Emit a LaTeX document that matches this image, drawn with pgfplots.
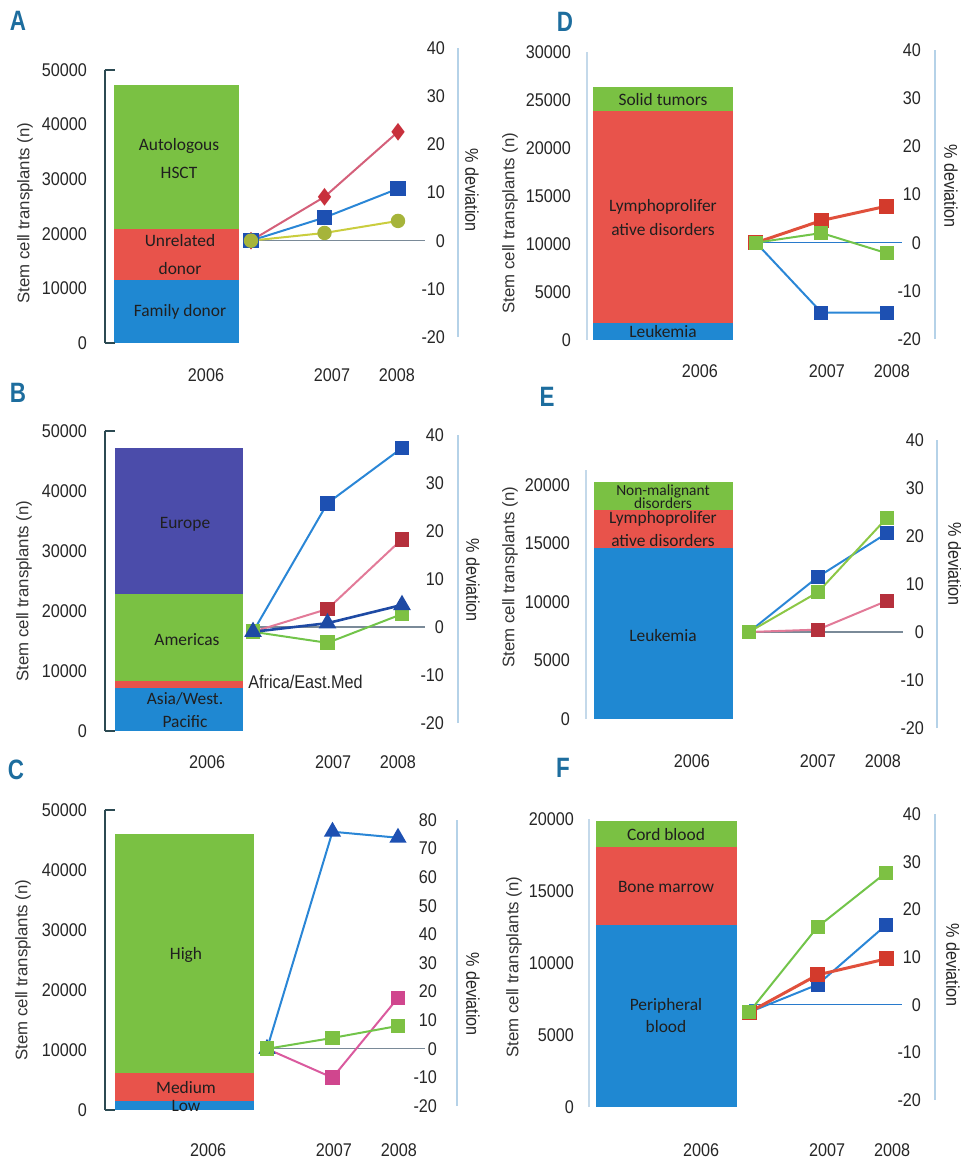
\documentclass[border=0pt]{standalone}
\usepackage{pgfplots}
\pgfplotsset{compat=1.18}
\usepackage{fontspec}
\setmainfont{Liberation Sans}
\newfontfamily\condf[FakeStretch=0.88]{Liberation Sans}
\newfontfamily\barf{Carlito}
\newfontfamily\letf[FakeStretch=0.8]{Liberation Sans}
\newcommand\tickfont{\condf\fontsize{9.2}{10}\selectfont}
\newcommand\barfont{\barf\fontsize{8.7}{9}\selectfont}
\newcommand\smallbarfont{\barf\fontsize{7.7}{8}\selectfont}
\newcommand\ylabfont{\fontsize{8.4}{9}\selectfont}
\newcommand\letfont{\letf\bfseries\fontsize{14}{15}\selectfont}

\definecolor{bgreen}{HTML}{7AC143}
\definecolor{bred}{HTML}{E8534B}
\definecolor{bblue}{HTML}{1F88D2}
\definecolor{bpurple}{HTML}{4B4CAA}
\definecolor{slate}{HTML}{2C4A52}
\definecolor{laxis}{HTML}{C4D9EA}
\definecolor{raxis}{HTML}{B5D2E8}
\definecolor{zline}{HTML}{7A8A98}
\definecolor{letc}{HTML}{1D6D9E}
\definecolor{pinkred}{HTML}{D4607A}
\definecolor{dred}{HTML}{C8303C}
\definecolor{lblue}{HTML}{2A86D6}
\definecolor{dblue}{HTML}{1D50B2}
\definecolor{yline}{HTML}{CACD3E}
\definecolor{olivem}{HTML}{A6B43A}
\definecolor{pinkl}{HTML}{E27A98}
\definecolor{mred}{HTML}{B5303C}
\definecolor{gline}{HTML}{72C44A}
\definecolor{gmark}{HTML}{7DC143}
\definecolor{navy}{HTML}{1E4AA4}
\definecolor{magl}{HTML}{DA5A9E}
\definecolor{magm}{HTML}{D0468E}
\definecolor{rline}{HTML}{E0503C}
\definecolor{rmark}{HTML}{D33A2C}

\pgfplotsset{
  every axis/.append style={scale only axis, anchor=south west, clip=false,
    /pgf/number format/assume math mode=true, /pgf/number format/1000 sep={},
    scaled y ticks=false},
  barax/.style={axis x line=none, axis y line=left, ybar stacked, ymin=0,
    major tick length=0pt,
    yticklabel style={font=\tickfont, text=black!85, anchor=east}},
  bracket/.style={y axis line style={-, draw=slate, line width=1.1pt}},
  faint/.style={y axis line style={-, draw=laxis, line width=0.8pt}},
  lineax/.style={axis y line=right, y axis line style={-, draw=raxis, line width=0.9pt},
    axis x line=bottom, x axis line style={draw=none},
    major tick length=0pt, ymin=-20, ymax=40, ytick={-20,-10,...,40},
    xticklabels={2006,2007,2008},
    ticklabel style={font=\tickfont, text=black!85},
    yticklabel style={anchor=east}, xticklabel style={anchor=base}},
  sq/.style={mark=square*, mark size=3.2pt},
}

\begin{document}
\begin{tikzpicture}
\path[use as bounding box] (0,0) rectangle (480pt,-579pt);

% ================= Panel A =================
\begin{axis}[barax, bracket, at={(52.5pt,-171.5pt)}, width=176.5pt, height=136.5pt,
  xmin=-1.986, xmax=2.816, ymax=50000, ytick={0,10000,...,50000}, bar width=62.5pt,
  yticklabel style={xshift=-5.5pt}]
\addplot[fill=bblue, draw=none] coordinates {(-1.014,11500)};
\addplot[fill=bred, draw=none] coordinates {(-1.014,9400)};
\addplot[fill=bgreen, draw=none] coordinates {(-1.014,26300)};
\end{axis}
\begin{axis}[lineax, at={(52.5pt,-168.5pt)}, width=176.5pt, height=144.5pt,
  xmin=-1.986, xmax=2.816, xtick={-0.612,1.102,1.986},
  yticklabel style={xshift=-3pt}, xticklabel style={yshift=-22.25pt}]
\addplot[zline, line width=0.6pt, forget plot] coordinates {(0,0) (2.37,0)};
\addplot[color=pinkred, line width=1pt, mark=diamond*, mark size=3.6pt, mark options={fill=dred, draw=dred}] coordinates {(0,0) (1,9.1) (2,22.6)};
\addplot[color=lblue, line width=1pt, sq, mark size=3.3pt, mark options={fill=dblue, draw=dblue}] coordinates {(0,0) (1,4.8) (2,10.8)};
\addplot[color=yline, line width=1pt, mark=*, mark size=3.1pt, mark options={fill=olivem, draw=olivem}] coordinates {(0,0) (1,1.6) (2,4.1)};
\end{axis}

% ================= Panel B =================
\begin{axis}[barax, bracket, at={(52.5pt,-365.5pt)}, width=176.5pt, height=150pt,
  xmin=-1.987, xmax=2.752, ymax=50000, ytick={0,10000,...,50000}, bar width=64pt,
  yticklabel style={xshift=-5.5pt}]
\addplot[fill=bblue, draw=none] coordinates {(-0.993,7170)};
\addplot[fill=bred, draw=none] coordinates {(-0.993,1160)};
\addplot[fill=bgreen, draw=none] coordinates {(-0.993,14500)};
\addplot[fill=bpurple, draw=none] coordinates {(-0.993,24340)};
\end{axis}
\begin{axis}[lineax, at={(52.5pt,-361.5pt)}, width=176.5pt, height=144pt,
  xmin=-1.987, xmax=2.752, xtick={-0.617,1.074,1.946},
  yticklabel style={xshift=-3.5pt}, xticklabel style={yshift=-22.75pt}]
\addplot[zline, line width=0.6pt, forget plot] coordinates {(0,0) (2.31,0)};
\addplot[color=lblue, line width=1pt, sq, mark options={fill=dblue, draw=dblue}] coordinates {(0,-1) (1,25.8) (2,37.3)};
\addplot[color=pinkl, line width=1pt, sq, mark options={fill=mred, draw=mred}] coordinates {(0,-1) (1,3.75) (2,18.3)};
\addplot[color=gline, line width=1pt, sq, mark options={fill=gmark, draw=gmark}] coordinates {(0,-1) (1,-3.3) (2,2.7)};
\addplot[color=navy, line width=1.3pt, mark=triangle*, mark size=3.8pt, mark options={fill=navy, draw=navy}] coordinates {(0,-1) (1,0.8) (2,4.6)};
\end{axis}

% ================= Panel C =================
\begin{axis}[barax, bracket, at={(52.5pt,-555pt)}, width=176pt, height=150pt,
  xmin=-2.473, xmax=2.901, ymax=50000, ytick={0,10000,...,50000}, bar width=69.5pt,
  yticklabel style={xshift=-5.5pt}]
\addplot[fill=bblue, draw=none] coordinates {(-1.26,1500)};
\addplot[fill=bred, draw=none] coordinates {(-1.26,4670)};
\addplot[fill=bgreen, draw=none] coordinates {(-1.26,39830)};
\end{axis}
\begin{axis}[lineax, at={(52.5pt,-553pt)}, width=176pt, height=143pt,
  xmin=-2.473, xmax=2.901, ymin=-20, ymax=80, ytick={-20,-10,...,80},
  xtick={-0.90,1.023,2.015},
  yticklabel style={xshift=-6.5pt}, xticklabel style={yshift=-25.25pt}]
\addplot[zline, line width=0.6pt, forget plot] coordinates {(0,0) (2.41,0)};
\addplot[color=lblue, line width=1pt, mark=triangle*, mark size=4pt, mark options={fill=dblue, draw=dblue}] coordinates {(0,0) (1,75.9) (2,73.8)};
\addplot[color=magl, line width=1pt, sq, mark options={fill=magm, draw=magm}] coordinates {(0,0) (1,-10.1) (2,17.8)};
\addplot[color=gline, line width=1pt, sq, mark options={fill=gmark, draw=gmark}] coordinates {(0,0) (1,3.8) (2,8.0)};
\end{axis}

% ================= Panel D =================
\begin{axis}[barax, faint, at={(293.5pt,-170pt)}, width=174pt, height=144pt,
  xmin=-2.58, xmax=2.733, ymax=30000, ytick={0,5000,...,30000}, bar width=70pt,
  yticklabel style={xshift=-4.5pt}]
\addplot[fill=bblue, draw=none] coordinates {(-1.42,1800)};
\addplot[fill=bred, draw=none] coordinates {(-1.42,22050)};
\addplot[fill=bgreen, draw=none] coordinates {(-1.42,2500)};
\end{axis}
\begin{axis}[lineax, at={(293.5pt,-169.5pt)}, width=174pt, height=144.5pt,
  xmin=-2.58, xmax=2.733, xtick={-0.855,1.084,2.076},
  yticklabel style={xshift=-3.5pt}, xticklabel style={yshift=-19.25pt}]
\addplot[color=lblue!80!navy, line width=0.6pt, forget plot] coordinates {(0,0) (2.23,0)};
\addplot[color=lblue, line width=1pt, sq, mark size=3pt, mark options={fill=dblue, draw=dblue}] coordinates {(0,0) (1,-14.5) (2,-14.5)};
\addplot[color=rline, line width=1.5pt, sq, mark size=3pt, mark options={fill=rmark, draw=rmark}] coordinates {(0,0) (1,4.6) (2,7.6)};
\addplot[color=gline, line width=1pt, sq, mark size=3pt, mark options={fill=gmark, draw=gmark}] coordinates {(0,0) (1,2) (2,-2.2)};
\end{axis}

% ================= Panel E =================
\begin{axis}[barax, faint, at={(293pt,-359.5pt)}, width=175.5pt, height=124.5pt,
  xmin=-2.362, xmax=2.725, ymax=21282, ytick={0,5000,...,20000}, bar width=69.5pt,
  yticklabel style={xshift=-4.5pt}]
\addplot[fill=bblue, draw=none] coordinates {(-1.239,14600)};
\addplot[fill=bred, draw=none] coordinates {(-1.239,3260)};
\addplot[fill=bgreen, draw=none] coordinates {(-1.239,2390)};
\end{axis}
\begin{axis}[lineax, at={(293pt,-364pt)}, width=175.5pt, height=144pt,
  xmin=-2.362, xmax=2.725, xtick={-0.826,1.0,1.942},
  yticklabel style={xshift=-3pt}, xticklabel style={yshift=-19.75pt}]
\addplot[zline, line width=0.6pt, forget plot] coordinates {(0,0) (2.23,0)};
\addplot[color=pinkl, line width=1pt, sq, mark size=3pt, mark options={fill=mred, draw=mred}] coordinates {(0,0) (1,0.5) (2,6.5)};
\addplot[color=lblue, line width=1pt, sq, mark size=3pt, mark options={fill=dblue, draw=dblue}] coordinates {(0,0) (1,11.5) (2,20.6)};
\addplot[color=gline!70!yline, line width=1pt, sq, mark size=3pt, mark options={fill=gmark, draw=gmark}] coordinates {(0,0) (1,8.3) (2,23.8)};
\end{axis}

% ================= Panel F =================
\begin{axis}[barax, faint, at={(294.5pt,-553.5pt)}, width=173pt, height=144pt,
  xmin=-2.336, xmax=2.715, ymax=20000, ytick={0,5000,...,20000}, bar width=70.5pt,
  yticklabel style={xshift=-4pt}]
\addplot[fill=bblue, draw=none] coordinates {(-1.204,12640)};
\addplot[fill=bred, draw=none] coordinates {(-1.204,5420)};
\addplot[fill=bgreen, draw=none] coordinates {(-1.204,1800)};
\end{axis}
\begin{axis}[lineax, at={(294.5pt,-550pt)}, width=173pt, height=143pt,
  xmin=-2.336, xmax=2.715, xtick={-0.70,1.139,2.088},
  yticklabel style={xshift=-3.5pt}, xticklabel style={yshift=-28.25pt}]
\addplot[color=lblue!80!navy, line width=0.6pt, forget plot] coordinates {(0,0) (2.23,0)};
\addplot[color=lblue, line width=1pt, sq, mark size=3pt, mark options={fill=dblue, draw=dblue}] coordinates {(0,-1.6) (1,4.2) (2,16.7)};
\addplot[color=rline, line width=1.5pt, sq, mark size=3pt, mark options={fill=rmark, draw=rmark}] coordinates {(0,-1.6) (1,6.25) (2,9.6)};
\addplot[color=gline, line width=1pt, sq, mark size=3pt, mark options={fill=gmark, draw=gmark}] coordinates {(0,-1.6) (1,16.3) (2,27.7)};
\end{axis}

% ================= Text and brackets =================
\begin{scope}[x=0.5pt, y=-0.5pt]
% bracket ends of the left axes in A, B, C
\foreach \yy in {70, 343, 431, 731, 810, 1110}
  \draw[slate, line width=1.1pt] (104.5,\yy) -- (115,\yy);
% panel letters
\node[font=\letfont, text=letc] at (18,21) {A};
\node[font=\letfont, text=letc] at (18,393) {B};
\node[font=\letfont, text=letc] at (16,770) {C};
\node[font=\letfont, text=letc] at (565,22) {D};
\node[font=\letfont, text=letc] at (547,397) {E};
\node[font=\letfont, text=letc] at (563,768) {F};
% left y labels
\foreach \x/\y in {25/213, 24/591, 23/970, 510/223, 510/577, 514/967}
  \node[font=\ylabfont, text=black!80, rotate=90] at (\x,\y) {Stem cell transplants (n)};
% right y labels
\foreach \x/\y in {472/190, 473/580, 473/994, 951/186, 955/564, 953/965}
  \node[font=\tickfont, text=black!85, rotate=-90] at (\x,\y) {\% deviation};
% bar labels
\begin{scope}[every node/.style={font=\barfont, text=black!88}]
\node at (179,146) {Autologous};
\node at (179,173) {HSCT};
\node at (180,241) {Unrelated};
\node at (180,269) {donor};
\node at (180,312) {Family donor};
\node at (185,524) {Europe};
\node at (187,640) {Americas};
\node at (185,699) {Asia/West.};
\node at (185,722) {Pacific};
\node at (186,955) {High};
\node at (186,1088) {Medium};
\node at (186,1106) {Low};
\node at (663,100) {Solid tumors};
\node at (663,207) {Lymphoprolifer};
\node at (663,230) {ative disorders};
\node at (663,332) {Leukemia};
\node[font=\smallbarfont] at (663,491) {Non-malignant};
\node[font=\smallbarfont] at (663,503) {disorders};
\node at (663,519) {Lymphoprolifer};
\node at (663,541) {ative disorders};
\node at (663,636) {Leukemia};
\node at (666,835) {Cord blood};
\node at (666,887) {Bone marrow};
\node at (666,1006) {Peripheral};
\node at (666,1027) {blood};
\end{scope}
\node[font=\tickfont, text=black!85, anchor=west, inner sep=0pt] at (248,682) {Africa/East.Med};
\end{scope}
\end{tikzpicture}
\end{document}
